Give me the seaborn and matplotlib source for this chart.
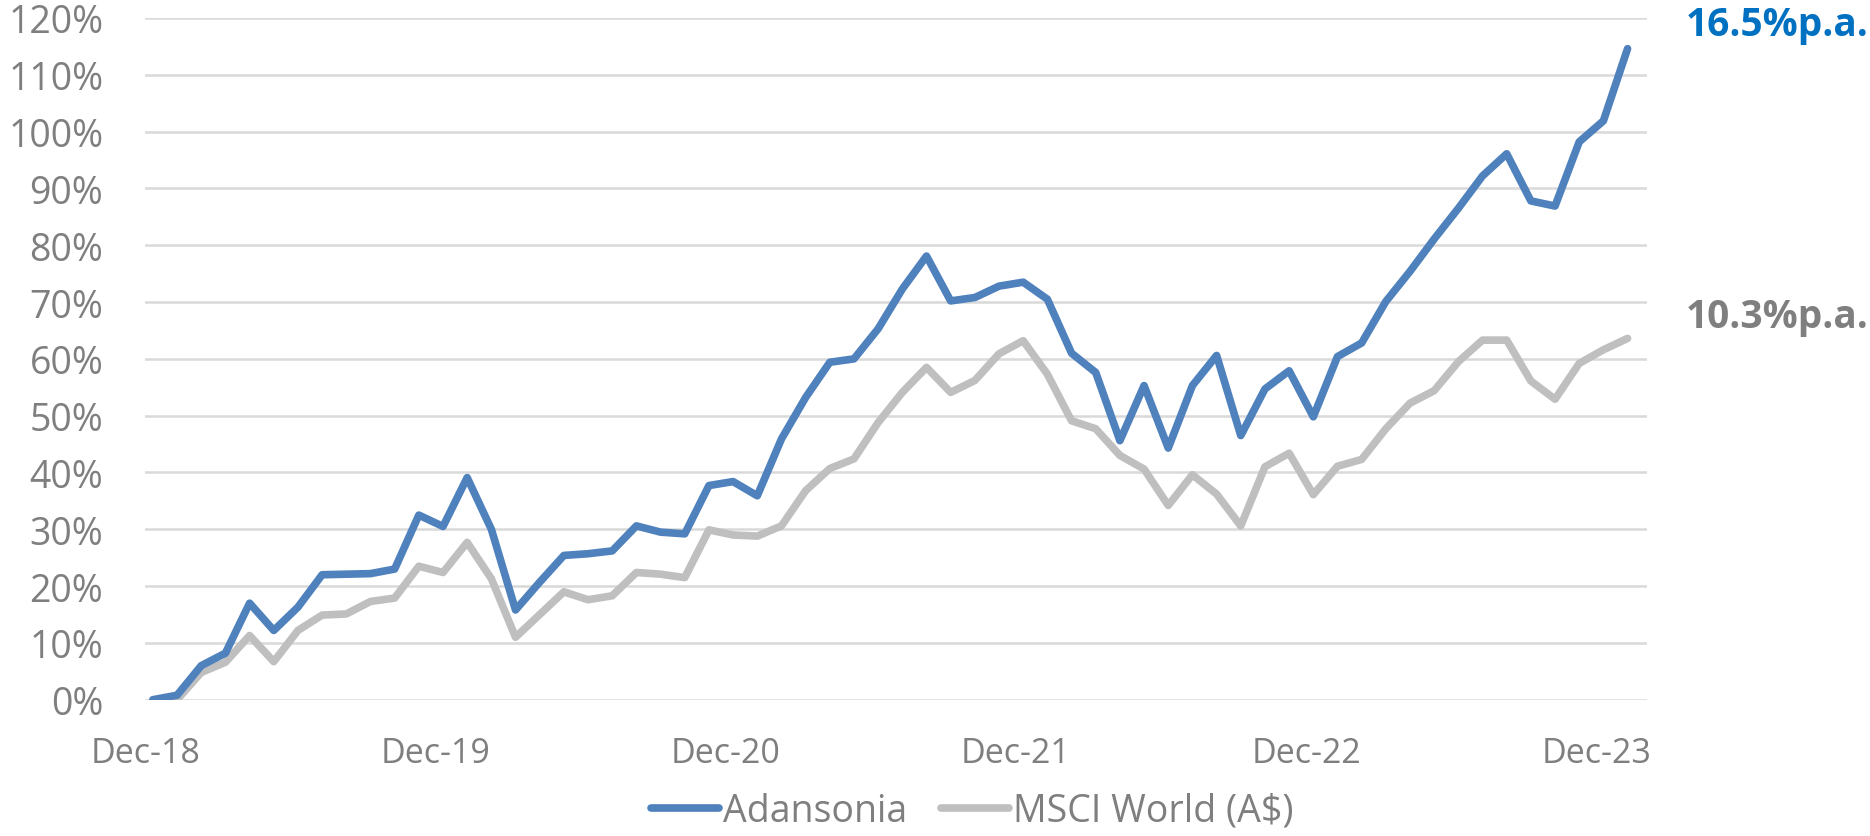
import pandas as pd
import matplotlib
matplotlib.use("Agg")
import matplotlib.pyplot as plt
import seaborn as sns

# cumulative return (%) per month, Dec-18 .. Jan-24
adansonia = [0.0, 0.8, 6.0, 8.2, 17.0, 12.2, 16.3, 22.0, 22.1, 22.2, 23.0, 32.5,
             30.5, 39.1, 30.0, 15.8, 20.7, 25.4, 25.7, 26.2, 30.6, 29.5, 29.2, 37.7,
             38.4, 35.9, 45.9, 53.2, 59.4, 60.0, 65.3, 72.3, 78.1, 70.2, 70.8, 72.8,
             73.5, 70.5, 61.0, 57.6, 45.6, 55.3, 44.3, 55.3, 60.6, 46.5, 54.7, 57.9,
             49.8, 60.4, 62.8, 70.1, 75.4, 81.1, 86.5, 92.2, 96.1, 87.8, 86.9, 98.2,
             101.9, 114.6]
msci = [0.0, 0.0, 4.8, 6.6, 11.3, 6.7, 12.2, 14.9, 15.1, 17.3, 17.9, 23.5,
        22.4, 27.7, 21.3, 11.0, 15.0, 19.0, 17.6, 18.3, 22.4, 22.1, 21.5, 29.9,
        29.0, 28.8, 30.6, 36.8, 40.7, 42.4, 48.8, 54.1, 58.5, 54.1, 56.2, 60.9,
        63.2, 57.3, 49.1, 47.7, 43.0, 40.6, 34.2, 39.6, 36.2, 30.6, 41.0, 43.4,
        36.1, 41.1, 42.3, 47.7, 52.2, 54.4, 59.5, 63.3, 63.3, 56.1, 52.9, 59.2,
        61.6, 63.6]
series_names = ["Adansonia", "MSCI World (A$)"]
tick_labels = ["Dec-18", "Dec-19", "Dec-20", "Dec-21", "Dec-22", "Dec-23"]
pa_labels = ["16.5%p.a.", "10.3%p.a."]

months = list(range(len(adansonia)))
df = pd.DataFrame({
    "month": months * 2,
    "value": adansonia + msci,
    "series": [series_names[0]] * len(months) + [series_names[1]] * len(months),
})

sns.set_style("white")
plt.rcParams["font.family"] = ["Open Sans", "DejaVu Sans"]

blue = "#4f81bd"
grey = "#bfbfbf"
text_grey = "#7f7f7f"

fig = plt.figure(figsize=(18.7, 8.37), dpi=100)
ax = fig.add_axes([0.0775, 0.1628, 0.8032, 0.8145])

sns.lineplot(data=df, x="month", y="value", hue="series",
             palette={series_names[0]: blue, series_names[1]: grey},
             hue_order=series_names[::-1], linewidth=5.5, ax=ax, legend=False,
             zorder=3)

ax.set_xlim(-0.33, 61.8)
ax.set_ylim(0, 120)
ax.set_yticks(range(0, 121, 10))
ax.set_yticklabels([f"{v}%" for v in range(0, 121, 10)])
ax.set_xticks([-0.3 + 12 * i for i in range(len(tick_labels))])
ax.set_xticklabels(tick_labels)
ax.set_xlabel("")
ax.set_ylabel("")

ax.grid(axis="y", color="#d9d9d9", linewidth=1.8)
for s in ax.spines.values():
    s.set_visible(False)
ax.tick_params(axis="y", length=0, labelsize=27, labelcolor=text_grey, pad=30)
ax.tick_params(axis="x", length=12, width=1.5, color="#d9d9d9",
               labelsize=24.5, labelcolor=text_grey, pad=14)

fig.text(0.999, 0.969, pa_labels[0], color="#0070c0", fontsize=28,
         fontweight="bold", ha="right", va="center")
fig.text(0.999, 0.621, pa_labels[1], color=text_grey, fontsize=28,
         fontweight="bold", ha="right", va="center")

handles = [plt.Line2D([], [], color=blue, linewidth=5.5),
           plt.Line2D([], [], color=grey, linewidth=5.5)]
leg = fig.legend(handles, series_names, loc="center", bbox_to_anchor=(0.52, 0.03),
                 ncol=2, frameon=False, fontsize=27, handlelength=1.8,
                 handletextpad=0.12, columnspacing=0.9, borderpad=0.1)
for t in leg.get_texts():
    t.set_color(text_grey)

fig.savefig("out.png", dpi=100)
